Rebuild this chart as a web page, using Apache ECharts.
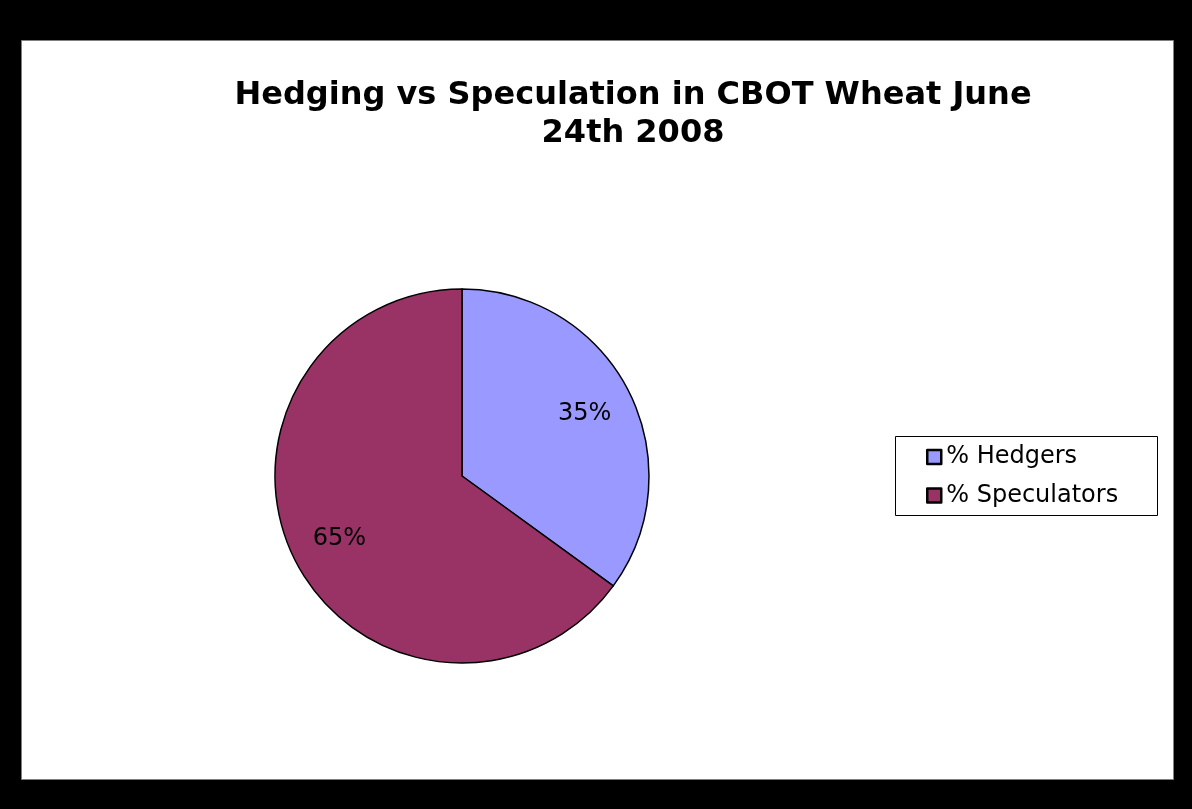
<!DOCTYPE html>
<html>
<head>
<meta charset="utf-8">
<script src="https://cdn.jsdelivr.net/npm/echarts@6/dist/echarts.min.js"></script>
<style>
html,body{margin:0;padding:0;background:#000;}
#chart{width:1192px;height:809px;}
</style>
</head>
<body>
<div id="chart"></div>
<script>
const titleLines = ['Hedging vs Speculation in CBOT Wheat June', '24th 2008'];
const categories = ['% Hedgers', '% Speculators'];
const values = [35, 65];
const colors = ['#9999FF', '#993366'];

const chart = echarts.init(document.getElementById('chart'), null, {renderer: 'canvas'});
const pieData = categories.map((c, i) => ({name: c, value: values[i], itemStyle: {color: colors[i]}}));
const R = 187;
const option = {
  backgroundColor: '#000',
  animation: false,
  graphic: [
    {type: 'rect', z: -10, shape: {x: 21.5, y: 40.5, width: 1152, height: 739}, style: {fill: '#fff', stroke: '#808080', lineWidth: 1}},
    {type: 'rect', z: -5, shape: {x: 895.5, y: 436.5, width: 262, height: 79}, style: {fill: '#fff', stroke: '#000', lineWidth: 1}},
    {type: 'text', z: 5, style: {text: titleLines[0], x: 633, y: 96, textAlign: 'center', textVerticalAlign: 'middle', font: 'bold 32px "DejaVu Sans"', fill: '#000'}},
    {type: 'text', z: 5, style: {text: titleLines[1], x: 633, y: 134, textAlign: 'center', textVerticalAlign: 'middle', font: 'bold 32px "DejaVu Sans"', fill: '#000'}}
  ],
  legend: {
    orient: 'vertical',
    left: 926,
    top: 444,
    padding: 0,
    itemGap: 12.5,
    itemWidth: 14,
    itemHeight: 14,
    icon: 'rect',
    data: categories,
    itemStyle: {borderColor: '#000', borderWidth: 2.5},
    textStyle: {fontFamily: 'DejaVu Sans', fontSize: 24, color: '#000', lineHeight: 26},
    selectedMode: false
  },
  series: [
    {
      type: 'pie',
      center: [462, 476],
      radius: [0, R],
      startAngle: 90,
      clockwise: true,
      data: pieData,
      label: {show: false},
      labelLine: {show: false},
      itemStyle: {borderColor: '#000', borderWidth: 1.5},
      emphasis: {disabled: true},
      silent: true
    },
    {
      type: 'pie',
      center: [462, 476],
      radius: [R * 0.44, R],
      startAngle: 90,
      clockwise: true,
      data: categories.map((c, i) => ({name: c, value: values[i]})),
      itemStyle: {color: 'rgba(0,0,0,0)', borderWidth: 0},
      label: {show: true, position: 'inside', formatter: '{d}%', fontFamily: 'DejaVu Sans', fontSize: 24, color: '#000'},
      labelLine: {show: false},
      emphasis: {disabled: true},
      silent: true
    }
  ]
};
chart.setOption(option);
</script>
</body>
</html>
